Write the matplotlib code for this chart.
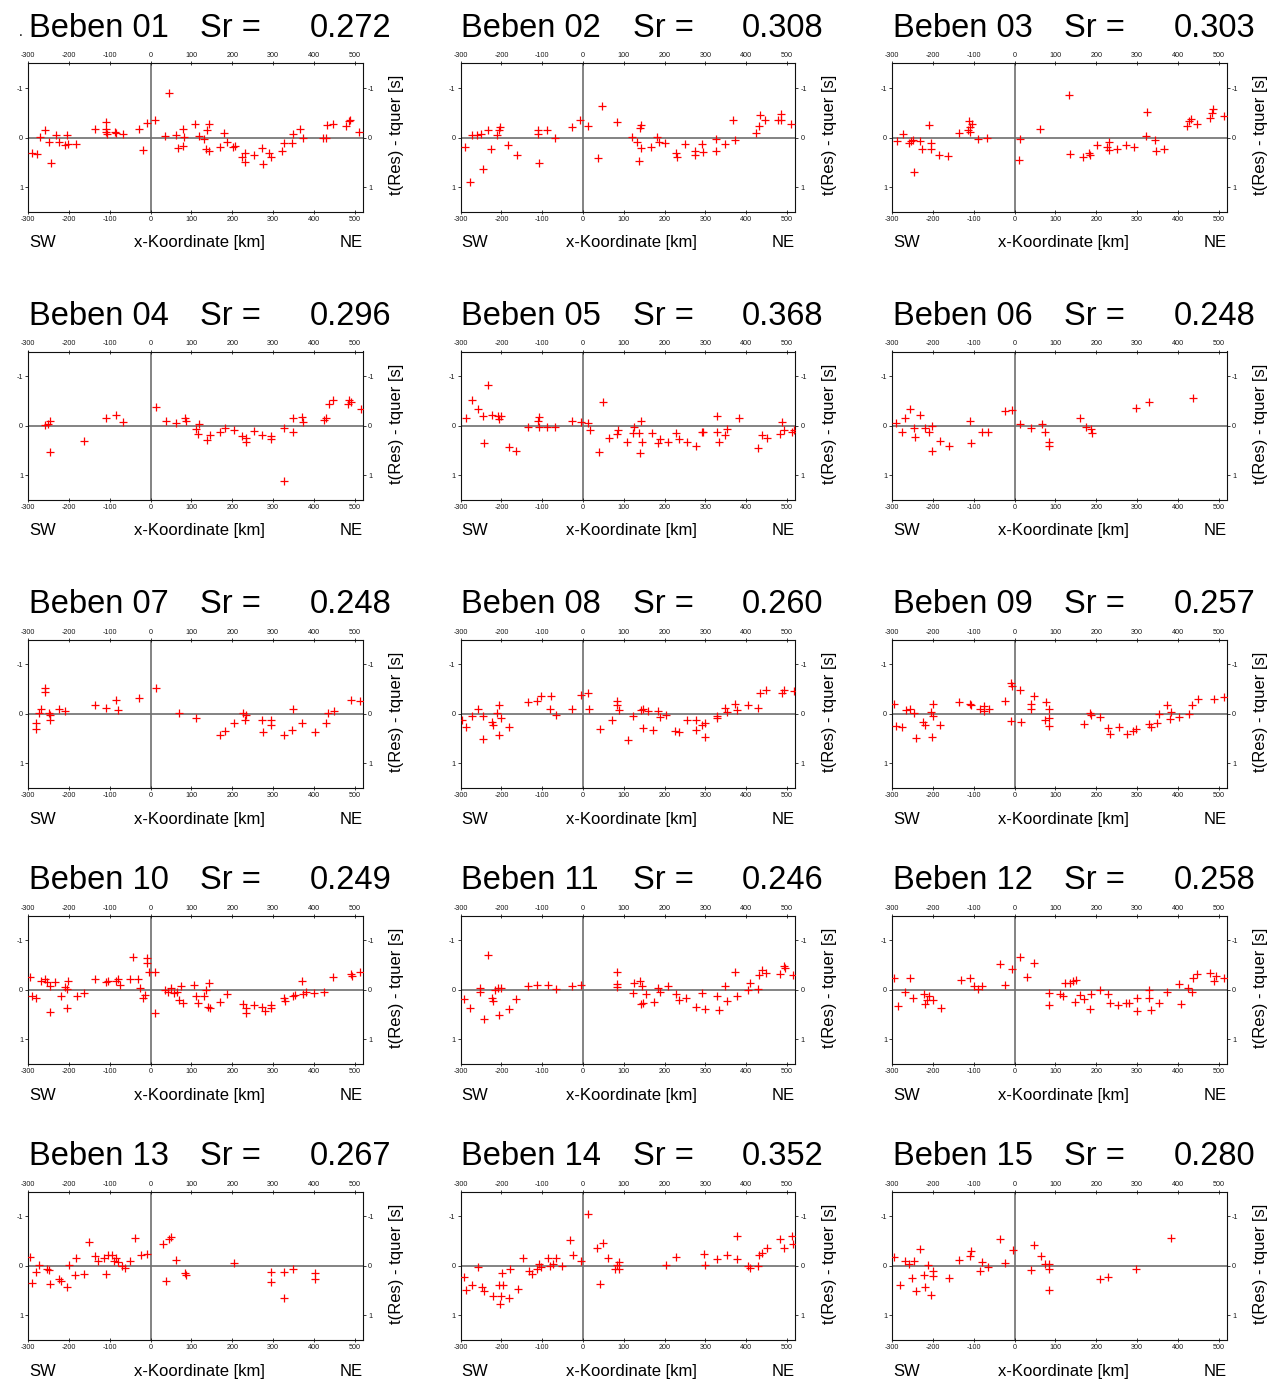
import matplotlib
matplotlib.use('Agg')
import matplotlib.pyplot as plt

plt.rcParams['font.family'] = ['Liberation Sans', 'DejaVu Sans']
plt.rcParams['axes.unicode_minus'] = False

# ---------------- data: (x-Koordinate [km], t(Res) - tquer [s]) ----------------
quake_ids = ['01', '02', '03', '04', '05', '06', '07', '08', '09', '10', '11', '12', '13', '14', '15']
sr_values = ['0.272', '0.308', '0.303', '0.296', '0.368', '0.248', '0.248', '0.260', '0.257',
             '0.249', '0.246', '0.258', '0.267', '0.352', '0.280']
x_ticks = [-300, -200, -100, 0, 100, 200, 300, 400, 500]
y_ticks = [-1, 0, 1]

quake_01 = [(-292, 0.32), (-278, 0.33), (-272, -0.02), (-259, -0.16), (-249, 0.09), (-245, 0.52),
            (-232, -0.06), (-224, 0.09), (-210, 0.15), (-204, -0.05), (-202, 0.13), (-183, 0.13),
            (-137, -0.18), (-110, -0.31), (-110, -0.11), (-110, -0.18), (-106, -0.08), (-88, -0.11),
            (-85, -0.09), (-67, -0.07), (-28, -0.18), (-18, 0.25), (-8, -0.30), (11, -0.36),
            (35, -0.04), (46, -0.89), (61, -0.05), (66, 0.22), (79, 0.17), (80, -0.18), (82, -0.01),
            (109, -0.28), (119, -0.03), (131, 0.02), (137, -0.15), (142, -0.27), (136, 0.24),
            (144, 0.27), (169, 0.19), (180, -0.09), (186, 0.09), (203, 0.20), (207, 0.17),
            (225, 0.40), (231, 0.32), (231, 0.49), (254, 0.35), (273, 0.22), (276, 0.53),
            (291, 0.31), (294, 0.39), (321, 0.27), (327, 0.12), (346, 0.11), (348, -0.07),
            (365, -0.18), (373, 0.0), (422, 0.0), (430, 0.0), (432, -0.25), (447, -0.27),
            (479, -0.24), (485, -0.33), (489, -0.36), (511, -0.11)]

quake_02 = [(-290, 0.20), (-278, 0.90), (-272, -0.05), (-260, -0.05), (-250, -0.07), (-246, 0.64),
            (-232, -0.16), (-226, 0.23), (-211, -0.05), (-207, -0.15), (-203, -0.21), (-183, 0.15),
            (-162, 0.35), (-111, -0.16), (-111, -0.08), (-109, 0.52), (-88, -0.16), (-68, 0.0),
            (-27, -0.21), (-8, -0.35), (11, -0.23), (37, 0.42), (47, -0.63), (82, -0.31),
            (119, -0.01), (131, 0.09), (137, 0.47), (139, -0.20), (141, -0.25), (142, 0.22),
            (167, 0.19), (182, -0.01), (186, 0.09), (202, 0.12), (227, 0.31), (231, 0.40),
            (251, 0.13), (274, 0.27), (274, 0.35), (292, 0.13), (295, 0.29), (325, 0.02),
            (325, 0.27), (348, 0.13), (367, -0.35), (372, 0.04), (423, -0.09), (431, -0.23),
            (433, -0.45), (445, -0.36), (478, -0.35), (484, -0.47), (486, -0.36), (509, -0.27)]

quake_03 = [(-289, 0.07), (-273, -0.07), (-258, 0.11), (-253, 0.07), (-249, 0.04), (-246, 0.69),
            (-232, 0.07), (-226, 0.23), (-210, -0.25), (-205, 0.23), (-204, 0.11), (-185, 0.35),
            (-163, 0.37), (-137, -0.10), (-114, -0.16), (-111, -0.33), (-110, -0.21), (-110, -0.11),
            (-105, -0.28), (-89, 0.03), (-69, 0.0), (13, 0.02), (11, 0.45), (62, -0.17),
            (134, -0.85), (136, 0.33), (168, 0.40), (181, 0.32), (185, 0.35), (203, 0.15),
            (226, 0.19), (230, 0.09), (230, 0.25), (252, 0.23), (273, 0.15), (293, 0.19),
            (322, -0.03), (324, -0.51), (344, 0.05), (347, 0.27), (366, 0.23), (422, -0.23),
            (428, -0.33), (432, -0.38), (448, -0.27), (478, -0.40), (483, -0.49), (486, -0.58),
            (512, -0.43)]

quake_04 = [(-260, -0.01), (-252, -0.04), (-247, -0.10), (-246, 0.54), (-164, 0.31), (-110, -0.16),
            (-86, -0.21), (-68, -0.07), (12, -0.38), (38, -0.10), (62, -0.05), (84, -0.16),
            (86, -0.10), (110, 0.07), (118, -0.04), (116, 0.17), (138, 0.28), (146, 0.19),
            (170, 0.12), (182, 0.05), (204, 0.08), (224, 0.20), (234, 0.32), (234, 0.24),
            (254, 0.11), (274, 0.19), (294, 0.20), (294, 0.27), (326, 1.11), (326, 0.05),
            (350, -0.15), (350, 0.12), (370, -0.18), (374, -0.07), (424, -0.11), (430, -0.15),
            (436, -0.44), (448, -0.53), (484, -0.44), (486, -0.52), (492, -0.48), (516, -0.34)]

quake_05 = [(-288, -0.15), (-272, -0.52), (-258, -0.34), (-246, -0.19), (-244, 0.34), (-232, -0.82),
            (-224, -0.21), (-208, -0.20), (-206, -0.13), (-200, -0.20), (-182, 0.42), (-164, 0.51),
            (-136, 0.02), (-110, -0.09), (-108, -0.17), (-108, 0.03), (-88, 0.03), (-68, 0.02),
            (-26, -0.09), (-6, -0.08), (12, -0.05), (16, 0.09), (48, -0.48), (40, 0.54),
            (64, 0.24), (82, 0.17), (86, 0.09), (108, 0.32), (122, 0.15), (124, 0.02),
            (136, 0.15), (140, 0.56), (142, -0.09), (144, 0.32), (170, 0.15), (184, 0.34),
            (188, 0.27), (208, 0.32), (228, 0.15), (234, 0.27), (254, 0.32), (278, 0.41),
            (292, 0.13), (294, 0.12), (328, 0.12), (328, -0.20), (332, 0.32), (348, 0.19),
            (352, 0.07), (382, -0.16), (428, 0.44), (438, 0.19), (452, 0.24), (482, 0.17),
            (488, -0.08), (492, 0.09), (512, 0.12), (518, 0.09)]

quake_06 = [(-290, -0.06), (-276, 0.12), (-270, -0.15), (-256, -0.34), (-248, 0.04), (-244, 0.22),
            (-232, -0.21), (-220, 0.04), (-210, 0.13), (-202, 0.0), (-202, 0.51), (-182, 0.31),
            (-162, 0.40), (-110, -0.09), (-108, 0.34), (-80, 0.13), (-66, 0.12), (-24, -0.30),
            (-6, -0.32), (14, -0.03), (40, 0.05), (68, -0.03), (74, 0.13), (84, 0.32),
            (84, 0.40), (160, -0.15), (174, 0.02), (188, 0.07), (190, 0.14), (298, -0.35),
            (330, -0.48), (438, -0.56)]

quake_07 = [(-282, 0.19), (-280, 0.31), (-274, -0.01), (-270, -0.09), (-260, -0.45), (-258, -0.53),
            (-250, -0.01), (-246, 0.12), (-246, 0.02), (-224, -0.09), (-210, -0.05), (-136, -0.18),
            (-110, -0.13), (-84, -0.28), (-80, -0.07), (-28, -0.32), (12, -0.52), (70, -0.01),
            (110, 0.09), (170, 0.42), (182, 0.34), (204, 0.19), (226, -0.01), (232, 0.13),
            (234, 0.02), (274, 0.12), (276, 0.36), (294, 0.12), (296, 0.23), (326, 0.42),
            (346, 0.32), (350, -0.09), (370, 0.19), (404, 0.36), (430, 0.19), (434, -0.01),
            (450, -0.05), (490, -0.28), (514, -0.27)]

quake_08 = [(-296, 0.12), (-288, 0.27), (-272, 0.04), (-258, -0.09), (-246, 0.51), (-246, 0.04),
            (-224, 0.17), (-222, 0.22), (-212, -0.01), (-206, -0.18), (-206, 0.42), (-202, 0.09),
            (-182, 0.27), (-136, -0.24), (-112, -0.27), (-104, -0.36), (-82, -0.09), (-78, -0.36),
            (-66, 0.02), (-26, -0.09), (-6, -0.38), (12, -0.43), (14, -0.10), (42, 0.31),
            (72, 0.13), (82, -0.26), (84, -0.18), (88, -0.07), (110, 0.52), (122, 0.04),
            (142, -0.07), (146, 0.29), (148, -0.09), (158, -0.05), (172, 0.32), (184, -0.05),
            (188, 0.07), (204, 0.02), (226, 0.34), (234, 0.36), (254, 0.13), (278, 0.32),
            (278, 0.13), (292, 0.22), (298, 0.47), (298, 0.19), (328, 0.09), (328, 0.05),
            (348, -0.13), (354, -0.03), (372, -0.21), (378, -0.07), (404, -0.18), (428, -0.13),
            (434, -0.43), (448, -0.48), (488, -0.43), (492, -0.48), (516, -0.47)]

quake_09 = [(-296, -0.20), (-290, 0.24), (-276, 0.27), (-266, -0.07), (-256, -0.09), (-246, -0.01),
            (-242, 0.49), (-224, 0.17), (-220, 0.22), (-206, -0.03), (-202, 0.47), (-200, -0.20),
            (-200, 0.04), (-182, 0.22), (-136, -0.25), (-110, -0.20), (-106, -0.18), (-84, -0.09),
            (-76, -0.16), (-76, -0.05), (-64, -0.11), (-24, -0.27), (-10, -0.62), (-6, -0.56),
            (-10, 0.15), (14, -0.48), (16, 0.17), (40, -0.11), (40, -0.21), (48, -0.36),
            (74, 0.12), (78, -0.25), (84, -0.09), (84, 0.09), (84, 0.24), (170, 0.20),
            (184, -0.01), (188, 0.02), (208, 0.07), (228, 0.29), (234, 0.40), (256, 0.27),
            (276, 0.40), (290, 0.34), (298, 0.31), (330, 0.20), (334, 0.27), (348, 0.19),
            (354, 0.0), (374, -0.18), (380, 0.11), (384, -0.03), (404, 0.07), (428, 0.0),
            (434, -0.18), (450, -0.30), (488, -0.30), (514, -0.34)]

quake_10 = [(-296, -0.27), (-290, 0.12), (-280, 0.17), (-270, -0.18), (-260, -0.23), (-254, -0.16),
            (-246, 0.44), (-246, -0.07), (-234, -0.16), (-220, 0.13), (-210, -0.05), (-206, -0.01),
            (-202, -0.18), (-204, 0.36), (-180, 0.13), (-164, 0.07), (-136, -0.23), (-110, -0.16),
            (-104, -0.18), (-86, -0.18), (-80, -0.23), (-74, -0.09), (-50, -0.23), (-44, -0.67),
            (-30, -0.23), (-26, -0.03), (-20, 0.17), (-14, 0.11), (-10, -0.65), (-10, -0.55),
            (-4, -0.36), (10, -0.36), (10, 0.46), (36, 0.0), (42, 0.04), (50, -0.03),
            (56, 0.07), (64, 0.04), (70, 0.20), (74, -0.07), (80, 0.26), (106, -0.09),
            (110, 0.13), (116, 0.26), (130, 0.12), (136, 0.0), (140, 0.34), (146, 0.36),
            (144, -0.15), (170, 0.24), (186, 0.09), (226, 0.29), (234, 0.47), (234, 0.36),
            (254, 0.31), (274, 0.34), (280, 0.42), (294, 0.31), (294, 0.36), (326, 0.17),
            (330, 0.22), (350, 0.12), (354, 0.11), (370, -0.18), (374, 0.09), (380, 0.05),
            (400, 0.07), (426, 0.05), (448, -0.27), (490, -0.32), (494, -0.28), (512, -0.36)]

quake_11 = [(-292, 0.19), (-276, 0.36), (-252, -0.03), (-252, 0.04), (-244, 0.58), (-232, -0.70),
            (-224, 0.17), (-220, 0.22), (-216, 0.0), (-208, -0.03), (-206, 0.51), (-202, -0.03),
            (-182, 0.38), (-164, 0.19), (-136, -0.07), (-112, -0.09), (-86, -0.09), (-66, -0.01),
            (-26, -0.07), (-6, -0.11), (82, -0.36), (84, -0.13), (84, -0.05), (122, 0.07),
            (126, -0.15), (140, -0.18), (142, 0.29), (144, -0.07), (148, 0.26), (154, 0.09),
            (174, 0.24), (184, -0.03), (188, 0.05), (208, -0.08), (228, 0.09), (234, 0.20),
            (252, 0.17), (278, 0.34), (292, 0.07), (298, 0.38), (328, 0.12), (332, 0.40),
            (348, -0.07), (354, 0.22), (372, -0.36), (378, 0.13), (404, 0.0), (408, -0.15),
            (428, -0.01), (432, -0.30), (438, -0.40), (448, -0.34), (492, -0.48), (494, -0.45),
            (482, -0.32), (514, -0.30)]

quake_12 = [(-296, -0.25), (-286, 0.32), (-270, 0.04), (-256, -0.25), (-250, 0.17), (-222, 0.09),
            (-220, 0.29), (-216, 0.20), (-210, 0.13), (-200, 0.20), (-180, 0.36), (-132, -0.21),
            (-110, -0.25), (-100, -0.07), (-90, -0.01), (-80, -0.07), (-36, -0.52), (-24, -0.11),
            (-6, -0.43), (14, -0.67), (30, -0.27), (48, -0.55), (84, 0.07), (84, 0.31),
            (110, 0.09), (118, 0.12), (124, -0.15), (136, -0.15), (144, -0.18), (150, -0.20),
            (148, 0.24), (160, 0.11), (170, 0.19), (184, 0.39), (188, 0.09), (208, 0.0),
            (228, 0.09), (234, 0.27), (254, 0.31), (274, 0.26), (280, 0.27), (300, 0.42),
            (300, 0.17), (330, 0.17), (330, 0.0), (334, 0.40), (354, 0.27), (374, 0.05),
            (404, -0.13), (408, 0.29), (424, -0.03), (434, 0.05), (436, -0.25), (448, -0.32),
            (480, -0.34), (488, -0.18), (494, -0.28), (514, -0.25)]

quake_13 = [(-296, -0.18), (-290, 0.34), (-280, 0.12), (-274, -0.01), (-254, 0.07), (-250, 0.09),
            (-246, 0.36), (-224, 0.26), (-220, 0.31), (-206, 0.42), (-200, -0.01), (-186, 0.19),
            (-184, -0.16), (-164, 0.17), (-150, -0.48), (-136, -0.21), (-130, -0.11), (-114, -0.16),
            (-110, 0.17), (-104, -0.23), (-94, -0.23), (-90, -0.09), (-84, -0.16), (-80, -0.07),
            (-70, 0.0), (-64, 0.04), (-50, -0.11), (-38, -0.56), (-24, -0.23), (-8, -0.25),
            (30, -0.45), (38, 0.31), (46, -0.55), (50, -0.58), (62, -0.13), (84, 0.15),
            (86, 0.19), (204, -0.05), (294, 0.12), (294, 0.32), (328, 0.12), (326, 0.64),
            (350, 0.07), (404, 0.15), (404, 0.27)]

quake_14 = [(-292, 0.22), (-288, 0.49), (-272, 0.39), (-258, 0.02), (-248, 0.42), (-244, 0.51),
            (-220, 0.60), (-206, 0.38), (-204, 0.76), (-202, 0.60), (-198, 0.15), (-196, 0.38),
            (-182, 0.64), (-180, 0.07), (-160, 0.46), (-148, -0.16), (-132, 0.11), (-124, 0.17),
            (-112, 0.07), (-108, -0.03), (-102, 0.02), (-86, -0.16), (-82, 0.0), (-74, -0.03),
            (-66, -0.16), (-52, 0.0), (-32, -0.52), (-24, -0.23), (-6, -0.11), (12, -1.05),
            (34, -0.36), (42, 0.36), (48, -0.47), (62, -0.16), (78, 0.07), (84, -0.01),
            (88, 0.07), (88, -0.08), (204, -0.01), (228, -0.18), (296, -0.25), (300, -0.01),
            (328, -0.15), (354, -0.23), (378, -0.60), (378, -0.15), (404, 0.0), (408, 0.04),
            (428, 0.0), (432, -0.23), (438, -0.27), (452, -0.36), (482, -0.55), (492, -0.36),
            (512, -0.60), (514, -0.45)]

quake_15 = [(-296, -0.18), (-280, 0.38), (-270, -0.09), (-260, -0.03), (-252, 0.24), (-246, -0.09),
            (-242, 0.51), (-232, -0.34), (-222, 0.19), (-220, 0.42), (-212, -0.01), (-206, 0.58),
            (-200, 0.11), (-200, 0.20), (-160, 0.24), (-136, -0.13), (-110, -0.21), (-108, -0.30),
            (-86, 0.11), (-80, -0.07), (-66, 0.02), (-36, -0.55), (-24, -0.05), (-4, -0.32),
            (40, 0.09), (48, -0.43), (64, -0.21), (74, -0.03), (84, -0.03), (84, 0.07),
            (84, 0.49), (208, 0.27), (228, 0.22), (298, 0.07), (384, -0.56)]

quakes = [quake_01, quake_02, quake_03, quake_04, quake_05, quake_06, quake_07, quake_08,
          quake_09, quake_10, quake_11, quake_12, quake_13, quake_14, quake_15]

# ---------------- layout (pixels) ----------------
W, H = 1273, 1380
col_left = [28.3, 460.7, 892.3]
row_top = [63.3, 351.5, 639.7, 915.7, 1191.7]
ax_w, ax_h = 334.5, 148.5

fig = plt.figure(figsize=(W / 100, H / 100), dpi=100)
fig.patch.set_facecolor('white')


def fx(px):
    return px / W


def fy(py):
    return 1 - py / H


for i, pts in enumerate(quakes):
    r, c = divmod(i, 3)
    L, T = col_left[c], row_top[r]
    ax = fig.add_axes([fx(L), fy(T + ax_h), ax_w / W, ax_h / H])
    xs = [p[0] for p in pts]
    ys = [p[1] for p in pts]
    ax.axhline(0, color='#6e6e6e', lw=1.2, zorder=1)
    ax.axvline(0, color='#6e6e6e', lw=1.2, zorder=1)
    ax.plot(xs, ys, ls='none', marker='+', ms=5.5, mew=0.9, color='#ff0000', zorder=3)
    ax.set_xlim(-300, 520)
    ax.set_ylim(1.5, -1.5)
    ax.set_xticks(x_ticks)
    ax.set_yticks(y_ticks)
    ax.tick_params(axis='both', direction='out', length=2.2, width=0.6, labelsize=5.2,
                   pad=1.5, colors='#1a1a1a', top=True, labeltop=True,
                   right=True, labelright=True)
    ax.tick_params(axis='x', which='both', top=True)
    ax.xaxis.set_tick_params(which='major', direction='inout', length=3)
    for s in ax.spines.values():
        s.set_linewidth(0.8)
        s.set_color('#111111')

    # title in three parts
    fig.text(fx(L + 0.7), fy(T - 26.5), f'Beben {quake_ids[i]}', fontsize=23.5,
             ha='left', va='baseline', color='black')
    fig.text(fx(L + 172), fy(T - 26.5), 'Sr =', fontsize=23.5,
             ha='left', va='baseline', color='black')
    fig.text(fx(L + 363), fy(T - 26.5), sr_values[i], fontsize=23.5,
             ha='right', va='baseline', color='black')
    # bottom labels
    fig.text(fx(L + 0.5), fy(T + ax_h + 35.5), 'SW', fontsize=12, ha='left', va='baseline')
    fig.text(fx(L + 171), fy(T + ax_h + 35.5), 'x-Koordinate [km]', fontsize=12,
             ha='center', va='baseline')
    fig.text(fx(L + ax_w), fy(T + ax_h + 35.5), 'NE', fontsize=12, ha='right', va='baseline')
    # right label
    fig.text(fx(L + ax_w + 34), fy(T + 72), 't(Res) - tquer [s]', fontsize=12,
             rotation=90, ha='center', va='center')

fig.text(fx(21), fy(36), '.', fontsize=10, ha='center', va='baseline')

fig.savefig('out.png', dpi=100, facecolor='white')
